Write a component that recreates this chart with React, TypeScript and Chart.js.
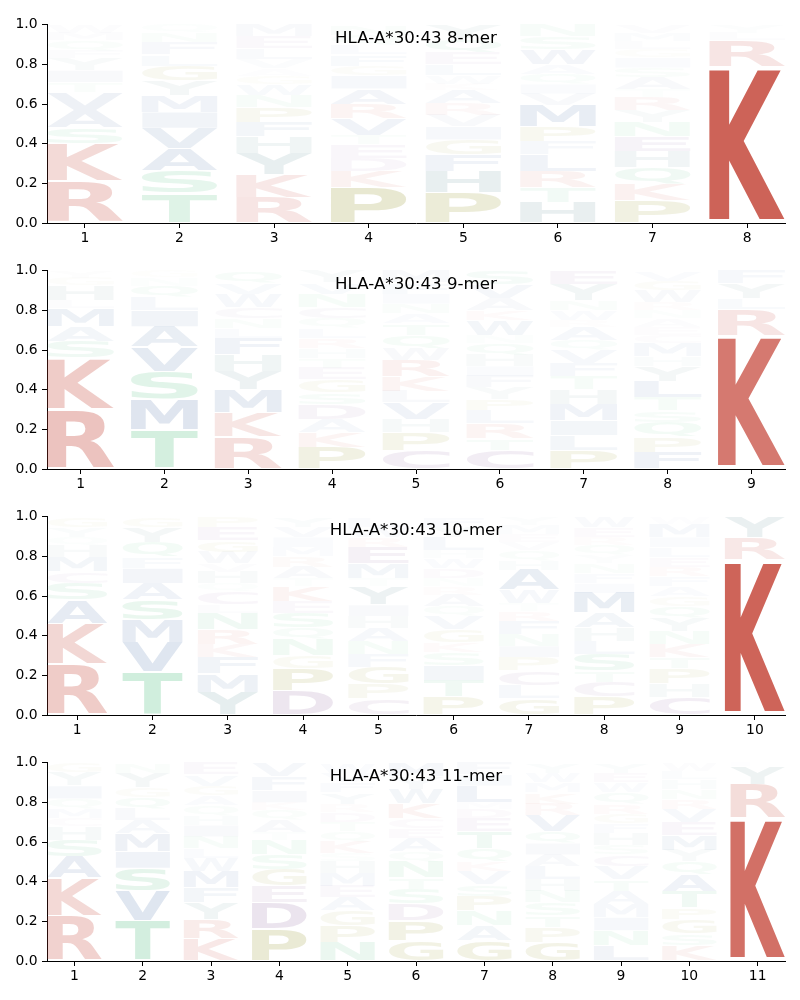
import React, { useEffect, useRef } from "react";
import { Chart, registerables } from "chart.js";

Chart.register(...registerables);

// ---------- data (letters bottom -> top, cumulative tops of each letter) ----------
const titles = ["HLA-A*30:43 8-mer", "HLA-A*30:43 9-mer", "HLA-A*30:43 10-mer", "HLA-A*30:43 11-mer"];

const mer8Positions = [1, 2, 3, 4, 5, 6, 7, 8];
const mer8Letters = ["RKSAVTIYFQMW", "TSAVIMYGLFNQ", "RKYHFPNWGAVLEM", "PKDETVRAIGFLQN", "PHFGIVRAKWLEQY", "HTRLFPMVIQAWSN", "PKQHENYRTASIGLMV", "KRLY"];
const mer8Tops = [
  [0.21, 0.4, 0.48, 0.57, 0.66, 0.71, 0.77, 0.83, 0.87, 0.92, 0.96, 1.0],
  [0.15, 0.265, 0.378, 0.478, 0.56, 0.643, 0.718, 0.793, 0.85, 0.912, 0.96, 1.0],
  [0.13, 0.245, 0.353, 0.436, 0.51, 0.585, 0.643, 0.7, 0.743, 0.78, 0.826, 0.88, 0.94, 1.0],
  [0.18, 0.262, 0.328, 0.395, 0.444, 0.527, 0.6, 0.677, 0.743, 0.793, 0.85, 0.9, 0.95, 1.0],
  [0.154, 0.262, 0.345, 0.42, 0.486, 0.544, 0.602, 0.668, 0.7, 0.743, 0.8, 0.86, 0.93, 1.0],
  [0.104, 0.18, 0.262, 0.345, 0.41, 0.486, 0.594, 0.652, 0.7, 0.751, 0.8, 0.876, 0.94, 1.0],
  [0.113, 0.196, 0.279, 0.36, 0.436, 0.51, 0.569, 0.635, 0.677, 0.735, 0.784, 0.834, 0.876, 0.917, 0.96, 1.0],
  [0.79, 0.92, 0.96, 1.0],
];

const mer9Positions = [1, 2, 3, 4, 5, 6, 7, 8, 9];
const mer9Letters = ["RKSAMLHGY", "TMSVAILQNG", "RKMYHFLNCWVQ", "PKADSGETHRLQCNVY", "CPHVLKRWQTANIFM", "CTRLPYFIHQNWKAVS", "PLIMHTFVQARWNYE", "FPQSTLYHMCEANRWGV", "KRLYF"];
const mer9Tops = [
  [0.302, 0.56, 0.643, 0.718, 0.81, 0.85, 0.925, 0.965, 1.0],
  [0.2, 0.352, 0.493, 0.618, 0.718, 0.8, 0.867, 0.925, 0.965, 1.0],
  [0.161, 0.286, 0.4, 0.493, 0.576, 0.66, 0.71, 0.76, 0.817, 0.884, 0.94, 1.0],
  [0.111, 0.186, 0.252, 0.327, 0.385, 0.452, 0.51, 0.56, 0.61, 0.66, 0.71, 0.76, 0.817, 0.884, 0.94, 1.0],
  [0.095, 0.186, 0.252, 0.336, 0.394, 0.468, 0.551, 0.61, 0.676, 0.734, 0.784, 0.834, 0.884, 0.94, 1.0],
  [0.095, 0.153, 0.228, 0.294, 0.352, 0.41, 0.468, 0.518, 0.576, 0.635, 0.676, 0.75, 0.8, 0.86, 0.93, 1.0],
  [0.095, 0.17, 0.244, 0.327, 0.402, 0.468, 0.535, 0.6, 0.651, 0.718, 0.75, 0.8, 0.85, 0.93, 1.0],
  [0.086, 0.161, 0.236, 0.294, 0.36, 0.443, 0.518, 0.568, 0.635, 0.676, 0.718, 0.76, 0.8, 0.842, 0.9, 0.95, 1.0],
  [0.675, 0.805, 0.86, 0.935, 1.0],
];

const mer10Positions = [1, 2, 3, 4, 5, 6, 7, 8, 9, 10];
const mer10Letters = ["RKASCMHQYG", "TVMSAIFQYG", "YMFKRNLCQHVWGEP", "DPGNQSEKTARMIVY", "CPGFNAHIYTMERWL", "PTISKGVQARNDWHLYF", "GLCPINFRTWAHQVEMY", "PCTSLHAMIFNYQREW", "CHPTKNYQGAFRELIMW", "KRY"];
const mer10Tops = [
  [0.257, 0.462, 0.581, 0.664, 0.723, 0.797, 0.855, 0.897, 0.947, 1.0],
  [0.216, 0.365, 0.482, 0.581, 0.664, 0.74, 0.797, 0.872, 0.947, 1.0],
  [0.116, 0.208, 0.29, 0.357, 0.432, 0.515, 0.556, 0.623, 0.664, 0.723, 0.764, 0.822, 0.88, 0.947, 1.0],
  [0.125, 0.233, 0.3, 0.382, 0.44, 0.515, 0.573, 0.648, 0.69, 0.748, 0.8, 0.847, 0.897, 0.95, 1.0],
  [0.083, 0.158, 0.241, 0.307, 0.374, 0.44, 0.498, 0.556, 0.648, 0.69, 0.764, 0.847, 0.897, 0.95, 1.0],
  [0.091, 0.174, 0.249, 0.316, 0.365, 0.432, 0.498, 0.548, 0.606, 0.648, 0.69, 0.739, 0.789, 0.83, 0.897, 0.95, 1.0],
  [0.083, 0.15, 0.224, 0.291, 0.349, 0.407, 0.473, 0.523, 0.565, 0.631, 0.731, 0.78, 0.83, 0.872, 0.914, 0.96, 1.0],
  [0.091, 0.166, 0.224, 0.307, 0.374, 0.44, 0.515, 0.615, 0.664, 0.714, 0.764, 0.806, 0.855, 0.897, 0.947, 1.0],
  [0.091, 0.158, 0.233, 0.29, 0.357, 0.424, 0.49, 0.548, 0.598, 0.648, 0.698, 0.748, 0.797, 0.847, 0.897, 0.963, 1.0],
  [0.785, 0.897, 1.0],
];

const mer11Positions = [1, 2, 3, 4, 5, 6, 7, 8, 9, 10, 11];
const mer11Letters = ["RKASHCMQIYG", "TVSIMALQGYN", "KRYFMWLNIHQAGVE", "PDEGSNTAQKIFV", "NPGAEMHSKQTDRYFVW", "GPDSTNQAECKWYM", "GANPSVKQTEDMLIF", "GPTSNHLAIQVRKMWY", "LNIMATVCSHFGRQWEY", "KSGPTAQYMEVRNHLW", "KRYL"];
const mer11Tops = [
  [0.229, 0.42, 0.527, 0.61, 0.677, 0.718, 0.768, 0.818, 0.884, 0.95, 1.0],
  [0.204, 0.353, 0.469, 0.552, 0.643, 0.71, 0.768, 0.826, 0.876, 0.95, 1.0],
  [0.113, 0.212, 0.295, 0.37, 0.453, 0.519, 0.569, 0.627, 0.685, 0.735, 0.784, 0.834, 0.884, 0.94, 1.0],
  [0.163, 0.295, 0.378, 0.461, 0.536, 0.61, 0.652, 0.71, 0.76, 0.8, 0.86, 0.93, 1.0],
  [0.096, 0.179, 0.254, 0.32, 0.378, 0.444, 0.502, 0.544, 0.602, 0.652, 0.701, 0.751, 0.793, 0.85, 0.9, 0.95, 1.0],
  [0.104, 0.204, 0.287, 0.362, 0.42, 0.502, 0.552, 0.619, 0.668, 0.718, 0.793, 0.867, 0.93, 1.0],
  [0.104, 0.179, 0.254, 0.328, 0.386, 0.453, 0.502, 0.569, 0.652, 0.718, 0.768, 0.8, 0.884, 0.94, 1.0],
  [0.096, 0.171, 0.229, 0.295, 0.353, 0.411, 0.478, 0.536, 0.594, 0.652, 0.735, 0.793, 0.85, 0.9, 0.95, 1.0],
  [0.08, 0.154, 0.22, 0.287, 0.353, 0.411, 0.478, 0.536, 0.585, 0.643, 0.693, 0.743, 0.793, 0.85, 0.9, 0.95, 1.0],
  [0.08, 0.138, 0.212, 0.27, 0.353, 0.436, 0.502, 0.56, 0.635, 0.701, 0.768, 0.818, 0.867, 0.917, 0.96, 1.0],
  [0.72, 0.893, 0.983, 1.0],
];

const yTicks = [0, 0.2, 0.4, 0.6, 0.8, 1.0];

// ---------- styles ----------
const RED = "#C0392B";
const GREEN = "#27AE60";
const OLIVE = "#808000";
const PURPLE = "#6C3483";
const BLUE = "#2B5797";
const TEAL = "#2E6B73";
const letterColors: Record<string, string> = {
  K: RED, R: RED,
  S: GREEN, T: GREEN, N: GREEN, Q: GREEN,
  P: OLIVE, G: OLIVE,
  D: PURPLE, E: PURPLE, C: PURPLE,
  A: BLUE, V: BLUE, L: BLUE, I: BLUE, M: BLUE, F: BLUE, W: BLUE,
  H: TEAL, Y: TEAL,
};

const panels = [
  { title: titles[0], positions: mer8Positions, letters: mer8Letters, tops: mer8Tops },
  { title: titles[1], positions: mer9Positions, letters: mer9Letters, tops: mer9Tops },
  { title: titles[2], positions: mer10Positions, letters: mer10Letters, tops: mer10Tops },
  { title: titles[3], positions: mer11Positions, letters: mer11Letters, tops: mer11Tops },
];
const canvasTops = [12, 258, 504, 750];

const FONT = '"DejaVu Sans", "Liberation Sans", sans-serif';

function letterAlpha(h: number) {
  return h < 0.1 ? (h * h) / 0.1 : Math.min(1, h);
}

function drawLetter(ctx: CanvasRenderingContext2D, ch: string, x: number, y: number, w: number, h: number, color: string, alpha: number) {
  if (w <= 0 || h <= 0.3) return;
  ctx.save();
  ctx.font = `bold 200px ${FONT}`;
  ctx.textAlign = "left";
  ctx.textBaseline = "alphabetic";
  const m = ctx.measureText(ch);
  const gw = m.actualBoundingBoxLeft + m.actualBoundingBoxRight;
  const gh = m.actualBoundingBoxAscent + m.actualBoundingBoxDescent;
  ctx.globalAlpha = Math.max(0, Math.min(1, alpha));
  ctx.fillStyle = color;
  ctx.translate(x, y);
  ctx.scale(w / gw, h / gh);
  ctx.fillText(ch, m.actualBoundingBoxLeft, m.actualBoundingBoxAscent);
  ctx.restore();
}

function LogoPanel({ panel, top }: { panel: any; top: number }) {
  const ref = useRef<HTMLCanvasElement | null>(null);
  useEffect(() => {
    if (!ref.current) return;
    const points: any[] = [];
    panel.letters.forEach((col: string, i: number) => {
      let prev = 0;
      for (let j = 0; j < col.length; j++) {
        const t = panel.tops[i][j];
        points.push({ x: panel.positions[i], y: [prev, t], letter: col[j] });
        prev = t;
      }
    });
    const n = panel.positions.length;
    const plugin = {
      id: "logoLetters",
      afterDatasetsDraw(chart: any) {
        const ctx = chart.ctx;
        const meta = chart.getDatasetMeta(0);
        const data = chart.data.datasets[0].data;
        meta.data.forEach((el: any, i: number) => {
          const p = data[i];
          const { x, y, base, width } = el.getProps(["x", "y", "base", "width"], true);
          const t = Math.min(y, base);
          const b = Math.max(y, base);
          const h = b - t;
          const pad = h * 0.025;
          drawLetter(ctx, p.letter, x - width / 2, t + pad, width, h - 2 * pad, letterColors[p.letter] || BLUE, letterAlpha(p.y[1] - p.y[0]));
        });
      },
      afterDraw(chart: any) {
        const ctx = chart.ctx;
        const a = chart.chartArea;
        ctx.save();
        ctx.font = `16.67px ${FONT}`;
        ctx.fillStyle = "#000";
        ctx.textAlign = "center";
        ctx.textBaseline = "alphabetic";
        ctx.fillText(panel.title, (a.left + a.right) / 2, a.top + 18);
        ctx.restore();
      },
    };
    const tickFont = { family: FONT, size: 13.9 };
    const chart = new Chart(ref.current, {
      type: "bar",
      data: {
        datasets: [
          {
            data: points,
            backgroundColor: "rgba(0,0,0,0)",
            borderWidth: 0,
            barPercentage: 1,
            categoryPercentage: 0.8,
          } as any,
        ],
      },
      options: {
        animation: false,
        responsive: false,
        maintainAspectRatio: false,
        layout: { padding: { top: 10, right: 15, bottom: 0, left: 0 } },
        plugins: { legend: { display: false }, tooltip: { enabled: false } },
        scales: {
          x: {
            type: "linear",
            min: 0.6,
            max: n + 0.4,
            offset: false,
            afterBuildTicks: (s: any) => {
              s.ticks = panel.positions.map((v: number) => ({ value: v }));
            },
            afterFit: (s: any) => {
              s.height = 29;
            },
            ticks: { autoSkip: false, maxRotation: 0, color: "#000", font: tickFont, padding: 2, callback: (v: any) => String(v) },
            grid: { display: true, drawOnChartArea: false, drawTicks: true, tickLength: 5, color: "#000", lineWidth: 1, offset: false },
            border: { display: true, color: "#000", width: 1 },
          },
          y: {
            type: "linear",
            min: 0,
            max: 1,
            afterBuildTicks: (s: any) => {
              s.ticks = yTicks.map((v) => ({ value: v }));
            },
            afterFit: (s: any) => {
              s.width = 47;
            },
            ticks: { color: "#000", font: tickFont, padding: 4.5, callback: (v: any) => Number(v).toFixed(1) },
            grid: { display: true, drawOnChartArea: false, drawTicks: true, tickLength: 5, color: "#000", lineWidth: 1 },
            border: { display: true, color: "#000", width: 1 },
          },
        },
      } as any,
      plugins: [plugin],
    });
    return () => chart.destroy();
  }, [panel]);
  return <canvas ref={ref} width={800} height={240} style={{ position: "absolute", left: 0, top, width: 800, height: 240 }} />;
}

export default function App() {
  return (
    <div style={{ position: "absolute", left: 0, top: 0, width: 800, height: 1000, background: "#fff" }}>
      {panels.map((p, i) => (
        <LogoPanel key={i} panel={p} top={canvasTops[i]} />
      ))}
    </div>
  );
}
